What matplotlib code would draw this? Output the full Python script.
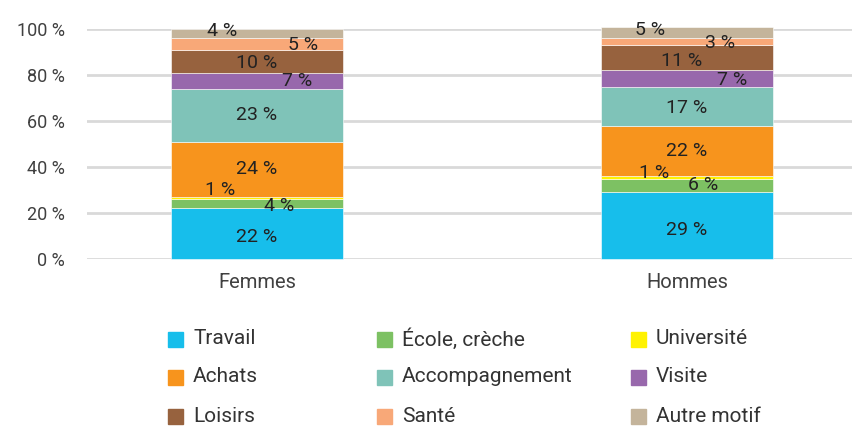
import numpy as np
import matplotlib.pyplot as plt
from matplotlib.patches import Rectangle

plt.rcParams['font.family'] = ['Roboto', 'DejaVu Sans']

groups = ['Femmes', 'Hommes']
motifs = ['Travail', 'École, crèche', 'Université', 'Achats', 'Accompagnement',
          'Visite', 'Loisirs', 'Santé', 'Autre motif']
femmes = [22, 4, 1, 24, 23, 7, 10, 5, 4]
hommes = [29, 6, 1, 22, 17, 7, 11, 3, 5]
colors = ['#17BEEB', '#7DC163', '#FFF200', '#F7941D', '#7FC3B8',
          '#9868AC', '#97623E', '#F8A878', '#C4B49B']

# label nudges in pixels (dx, dy) so small segments stay readable
nudge_f = [(0, -3), (22, -2), (-37, 8), (0, 0), (0, 0), (40, 0), (0, -2), (46, -1), (-35, 3)]
nudge_h = [(0, -4), (16, 0), (-33, 4), (0, 0), (0, -2), (45, -2), (-5, -3), (33, -1), (-37, 2)]

fig = plt.figure(figsize=(8.52, 4.26), dpi=100)
ax = fig.add_axes([87 / 852, 1 - 259 / 426, 765 / 852, 230 / 426])

x = np.arange(len(groups))
width = 0.4
data = np.array([femmes, hommes])
bottoms = np.zeros(len(groups))
for i, m in enumerate(motifs):
    vals = data[:, i]
    ax.bar(x, vals, width, bottom=bottoms, color=colors[i], edgecolor='white',
           linewidth=0.4, clip_on=False, zorder=3)
    for j, nud in enumerate([nudge_f, nudge_h]):
        mid = bottoms[j] + vals[j] / 2
        ax.annotate(f'{vals[j]} %', (x[j], mid), xytext=nud[i],
                    textcoords='offset pixels', ha='center', va='center',
                    fontsize=14, color='#222222', zorder=5)
    bottoms += vals

ax.set_xlim(-0.395, 1.384)
ax.set_ylim(0, 100)
ax.set_yticks(range(0, 101, 20))
ax.set_yticklabels([f'{v} %' for v in range(0, 101, 20)], fontsize=13)
ax.set_xticks(x)
ax.set_xticklabels(groups, fontsize=14.5)
ax.tick_params(length=0, colors='#404040')
ax.tick_params(axis='y', pad=16)
ax.tick_params(axis='x', pad=10)
for lab in ax.get_yticklabels():
    lab.set_horizontalalignment('right')
ax.grid(axis='y', color='#D9D9D9', linewidth=2, zorder=0)
for s in ax.spines.values():
    s.set_visible(False)

# legend laid out row by row in three columns
col_x = [168, 377, 631]
row_y = [339, 377, 416]
W, H = 852, 426
for k, (m, c) in enumerate(zip(motifs, colors)):
    r, col = divmod(k, 3)
    sx, sy = col_x[col], row_y[r]
    fig.add_artist(Rectangle((sx / W, 1 - (sy + 7.5) / H), 15 / W, 15 / H,
                             transform=fig.transFigure, color=c))
    fig.text((sx + 25) / W, 1 - sy / H, m, ha='left', va='center',
             fontsize=15, color='#333333')

fig.savefig('out.png', dpi=100)
